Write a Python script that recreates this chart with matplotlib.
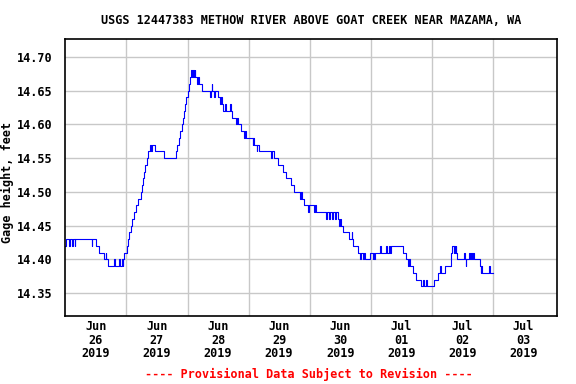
# USGS gage height plot, Methow River above Goat Creek

import datetime
import matplotlib
matplotlib.use('Agg')
import matplotlib.pyplot as plt
import matplotlib.dates as mdates

# change points: hours after 2019-06-26 00:00, gage height (ft)
hours = [0.0, 0.3, 1.5, 1.8, 2.5, 2.8, 3.6, 3.9,
         10.3, 10.6,
         12.1, 13.4, 15.3, 15.8, 16.1, 16.9,
         19.2, 19.5, 21.1, 21.4, 22.3, 22.6,
         22.8, 23.2, 24.1, 24.5, 25.0, 25.7, 26.2, 27.0, 27.8, 28.4, 29.6, 30.0,
         30.4, 30.9, 31.4, 31.9, 32.6, 33.3, 33.7, 34.2, 35.2, 38.9, 43.5, 43.9,
         44.7, 45.2, 45.7, 46.1, 46.5, 47.0, 47.5, 48.1, 48.4, 48.8, 49.4, 49.9,
         50.2, 50.5, 50.8, 51.1, 51.7, 52.0, 52.5, 53.8, 57.0, 57.3, 57.5, 57.8,
         58.6, 58.9, 60.0, 60.8, 61.2, 61.6, 62.1, 62.7, 63.0, 64.7, 65.2, 65.6,
         67.0, 67.3, 67.9, 69.0, 70.2, 70.5, 70.8, 73.6, 73.9, 74.1, 75.2, 75.5,
         76.2, 81.0, 81.3, 81.8, 83.7, 85.6, 86.7, 88.5, 90.0, 92.4, 92.7, 92.9,
         93.7, 95.4, 95.7, 97.8, 98.1, 98.6, 102.6, 102.9, 103.6, 103.9, 104.7,
         105.0, 106.0, 106.3, 107.2, 107.6, 107.9, 108.4, 109.2, 111.5, 112.5,
         112.8, 113.1, 115.1, 115.8, 116.1, 117.1, 117.5, 117.8, 119.7, 120.7,
         121.0, 121.3, 121.6, 123.6, 123.9, 126.0, 126.5, 127.0, 127.4, 127.9,
         132.5, 133.8, 134.7, 135.1, 135.4, 136.7, 137.7, 139.6, 140.6, 140.9,
         141.9, 142.2, 144.8, 146.3, 147.2, 147.5, 149.3, 151.5, 152.1, 152.6,
         152.9, 153.2, 153.5, 153.7, 154.1, 156.7, 157.0, 157.3, 157.6, 158.7,
         159.0, 159.3, 159.7, 160.1, 160.5, 162.9, 163.2, 163.5, 163.7, 166.5,
         166.8, 168.0]
gage = [14.42, 14.43, 14.42, 14.43, 14.42, 14.43, 14.42, 14.43,
        14.42, 14.43,
        14.42, 14.41, 14.40, 14.41, 14.40, 14.39,
        14.40, 14.39, 14.40, 14.39, 14.40, 14.39,
        14.40, 14.41, 14.42, 14.43, 14.44, 14.45, 14.46, 14.47, 14.48, 14.49, 14.50, 14.51,
        14.52, 14.53, 14.54, 14.55, 14.56, 14.57, 14.56, 14.57, 14.56, 14.55, 14.56, 14.57,
        14.58, 14.59, 14.60, 14.61, 14.62, 14.63, 14.64, 14.65, 14.66, 14.67, 14.68, 14.67,
        14.68, 14.67, 14.68, 14.67, 14.66, 14.67, 14.66, 14.65, 14.64, 14.65, 14.66, 14.65,
        14.64, 14.65, 14.64, 14.63, 14.64, 14.63, 14.62, 14.63, 14.62, 14.63, 14.62, 14.61,
        14.60, 14.61, 14.60, 14.59, 14.58, 14.59, 14.58, 14.57, 14.58, 14.57, 14.56, 14.57,
        14.56, 14.55, 14.56, 14.55, 14.54, 14.53, 14.52, 14.51, 14.50, 14.49, 14.50, 14.49,
        14.48, 14.47, 14.48, 14.47, 14.48, 14.47, 14.46, 14.47, 14.46, 14.47, 14.46,
        14.47, 14.46, 14.47, 14.46, 14.45, 14.46, 14.45, 14.44, 14.43, 14.44,
        14.43, 14.42, 14.41, 14.40, 14.41, 14.40, 14.41, 14.40, 14.41, 14.40,
        14.41, 14.40, 14.41, 14.42, 14.41, 14.42, 14.41, 14.42, 14.41, 14.42,
        14.41, 14.40, 14.39, 14.40, 14.39, 14.38, 14.37, 14.36, 14.37, 14.36,
        14.37, 14.36, 14.37, 14.38, 14.39, 14.38, 14.39, 14.41, 14.42, 14.41,
        14.42, 14.41, 14.42, 14.41, 14.40, 14.41, 14.40, 14.39, 14.40, 14.41,
        14.40, 14.41, 14.40, 14.41, 14.40, 14.39, 14.38, 14.39, 14.38, 14.39,
        14.38, 14.38]

yticks = [14.35, 14.40, 14.45, 14.50, 14.55, 14.60, 14.65, 14.70]
title = "USGS 12447383 METHOW RIVER ABOVE GOAT CREEK NEAR MAZAMA, WA"
footer = "---- Provisional Data Subject to Revision ----"

start = datetime.datetime(2019, 6, 26)
times = [start + datetime.timedelta(hours=h) for h in hours]

mono = 'DejaVu Sans Mono'

fig = plt.figure(figsize=(5.76, 3.84), dpi=100, facecolor='white')
ax = fig.add_axes([0.1135, 0.177, 0.8535, 0.7205])

ax.plot(times, gage, color='#0000ff', linewidth=0.8, drawstyle='steps-post')

# limits
ax.set_xlim(start, start + datetime.timedelta(days=8.05))
ax.set_ylim(14.316, 14.726)

# ticks: labels at noon, grid at midnight
noon = [start + datetime.timedelta(days=d, hours=12) for d in range(8)]
midnight = [start + datetime.timedelta(days=d) for d in range(1, 8)]
ax.set_xticks(noon)
ax.xaxis.set_major_formatter(mdates.DateFormatter('%b\n%d\n%Y'))
ax.set_xticks(midnight, minor=True)
ax.set_yticks(yticks)
ax.set_yticklabels(["%.2f" % v for v in yticks])

ax.grid(True, which='minor', axis='x', color='#c8c8c8', linewidth=1.0)
ax.grid(True, which='major', axis='y', color='#c8c8c8', linewidth=1.0)
ax.set_axisbelow(True)
ax.tick_params(which='both', length=0)
ax.tick_params(axis='x', pad=3)
ax.tick_params(axis='y', pad=9)

for lab in ax.get_xticklabels() + ax.get_yticklabels():
    lab.set_fontfamily(mono)
    lab.set_fontweight('bold')
    lab.set_fontsize(8.5)
for lab in ax.get_xticklabels():
    lab.set_linespacing(1.05)

for sp in ax.spines.values():
    sp.set_linewidth(1.2)
    sp.set_color('black')

ax.set_ylabel("Gage height, feet", fontfamily=mono, fontweight='bold', fontsize=8.5)
ax.yaxis.set_label_coords(-0.105, 0.484)
ax.set_title(title, fontfamily=mono, fontweight='bold', fontsize=8.5, pad=11)

fig.text(0.537, 0.024, footer, color='#ff0000', fontfamily=mono, fontweight='bold',
         fontsize=8.5, ha='center', va='center')

fig.savefig('out.png', dpi=100, facecolor='white')
